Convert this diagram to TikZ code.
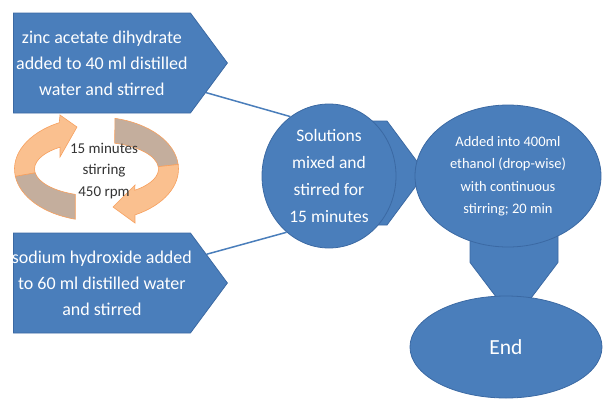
\documentclass[tikz,border=0pt]{standalone}
\usepackage{fontspec}
\setmainfont{Carlito}
\usetikzlibrary{shapes.geometric,shapes.symbols,calc,backgrounds}
\definecolor{ofblue}{HTML}{4A7EBB}
\definecolor{ofedge}{HTML}{3B69A3}
\definecolor{oforange}{HTML}{FAC08F}
\definecolor{ofrim}{HTML}{F7A05E}
\definecolor{ofback}{HTML}{C4AE9D}
\tikzset{blk/.style={draw=ofedge, fill=ofblue, text=white, align=center, line width=0.8pt},
  sig/.style={blk, signal, signal to=east, signal pointer angle=107, inner xsep=-15pt,
    minimum width=214pt, minimum height=100pt, font=\fontsize{18}{26}\selectfont},
  link/.style={draw=ofblue, line width=1.5pt},
  band/.style={draw=ofrim, line width=0.6pt}}

\begin{document}
\begin{tikzpicture}[x=1pt, y=1pt]
  \useasboundingbox (0,0) rectangle (603,-400);
  % the two solutions
  \node[sig, anchor=west] (zinc) at (13,-63) {zinc acetate dihydrate\\added to 40 ml distilled\\water and stirred};
  \node[sig, anchor=west] (naoh) at (13,-283) {sodium hydroxide added\\to 60 ml distilled water\\and stirred};
  % mixing, then into ethanol
  \node[blk, ellipse, inner sep=0pt, minimum width=134pt, minimum height=144pt,
    font=\fontsize{17.5}{27}\selectfont] (mix) at (329,-176) {Solutions\\mixed and\\stirred for\\15 minutes};
  \node[blk, ellipse, inner sep=0pt, minimum width=186pt, minimum height=142pt,
    font=\fontsize{14.5}{22.5}\selectfont] (add) at (508,-176) {Added into 400ml\\ethanol (drop-wise)\\with continuous\\stirring; 20 min};
  \node[blk, ellipse, minimum width=192pt, minimum height=102pt,
    font=\fontsize{21.5}{26}\selectfont] (stop) at (506,-347) {End};
  \draw[link] (zinc) -- (mix.123);
  \draw[link] (naoh) -- (mix.233);
  % block arrows behind the ellipses
  \begin{scope}[on background layer]
    \draw[blk] ($(mix.center)+(20,55)$) -- ($(mix.center)+(58,55)$) -- ($(add.west)+(11,3)$)
      -- ($(mix.center)+(58,-49)$) -- ($(mix.center)+(20,-49)$) -- cycle;
    \draw[blk] ($(add.south)+(-38,30)$) -- ($(add.south)+(-38,-15)$) -- ($(stop.north)+(8,-25)$)
      -- ($(add.south)+(50,-15)$) -- ($(add.south)+(50,30)$) -- cycle;
  \end{scope}
  % stirring loop: back face, then front face with head
  \coordinate (rot) at (96.5,-169);
  \foreach \ao/\ai/\b/\co/\ci/\bx/\byi/\byii/\tx/\ty in
      {117/126/188/255/250/-36.5/54/12/-19.5/42, -62/-52/5/77/73/38.5/-54/-16/16.5/-38}{
    \fill[band, fill=ofback] ($(rot)+(\b:82pt and 52pt)$) arc[start angle=\b, end angle=\co, x radius=82pt, y radius=52pt]
      -- ($(rot)+(\ci:62pt and 27pt)$) arc[start angle=\ci, end angle=\b, x radius=62pt, y radius=27pt] -- cycle;
    \fill[band, fill=oforange] ($(rot)+(\bx,\byi)$) -- ($(rot)+(\tx,\ty)$) -- ($(rot)+(\bx,\byii)$)
      -- ($(rot)+(\ai:62pt and 27pt)$) arc[start angle=\ai, end angle=\b, x radius=62pt, y radius=27pt]
      -- ($(rot)+(\b:82pt and 52pt)$) arc[start angle=\b, end angle=\ao, x radius=82pt, y radius=52pt] -- cycle;
  }
  \node[font=\fontsize{15}{21.5}\selectfont, text=black!80, align=center] (stir) at (104,-171) {15 minutes\\stirring\\450 rpm};
\end{tikzpicture}
\end{document}
